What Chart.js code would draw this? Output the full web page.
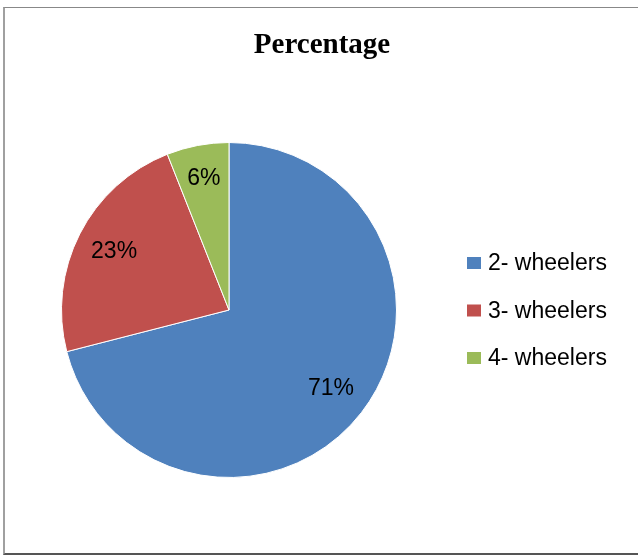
<!DOCTYPE html>
<html>
<head>
<meta charset="utf-8">
<script src="https://cdn.jsdelivr.net/npm/chart.js@4"></script>
<style>
  body { margin: 0; background: #fff; }
  #wrap { position: relative; width: 638px; height: 556px; overflow: hidden; }
  #frame { position: absolute; left: 3px; top: 7px; width: 660px; height: 545px;
           border-left: 2px solid #a0a0a0; border-top: 1px solid #888; border-bottom: 2px solid #555; }
  #chart_view { position: absolute; left: 0; top: 0; }
</style>
</head>
<body>
<div id="wrap">
  <div id="frame"></div>
  <canvas id="chart_view" width="638" height="556"></canvas>
</div>
<script>
var target = document.getElementById('chart_view');

const labels = ['2- wheelers', '3- wheelers', '4- wheelers'];
const values = [71, 23, 6];
const colors = ['#4F81BD', '#C0504D', '#9BBB59'];
const title = 'Percentage';

// title, legend and % labels drawn by hand to match the excel look
const excelBits = {
  id: 'excelBits',
  afterDraw(chart) {
    const ctx = chart.ctx;
    ctx.save();
    ctx.fillStyle = '#000';
    ctx.textBaseline = 'middle';

    ctx.font = 'bold 29px "Liberation Serif"';
    ctx.textAlign = 'center';
    ctx.fillText(title, 322, 46);

    // slice labels
    ctx.font = '23px "Liberation Sans"';
    const meta = chart.getDatasetMeta(0);
    meta.data.forEach(function (arc, i) {
      const p = arc.getProps(['x', 'y', 'startAngle', 'endAngle', 'outerRadius']);
      const mid = (p.startAngle + p.endAngle) / 2;
      const r = p.outerRadius * (i == 2 ? 0.8 : 0.77);
      ctx.fillText(values[i] + '%', p.x + Math.cos(mid) * r, p.y + Math.sin(mid) * r);
    });

    // legend
    ctx.textAlign = 'left';
    labels.forEach(function (lab, i) {
      const y = 263 + i * 47.5;
      ctx.fillStyle = colors[i];
      ctx.fillRect(467, y - 6, 14, 12);
      ctx.fillStyle = '#000';
      ctx.fillText(lab, 488, y + 1);
    });
    ctx.restore();
  }
};

const data = {
  labels: labels,
  datasets: [{
    data: values,
    backgroundColor: colors,
    borderColor: '#fff',
    borderWidth: 1
  }]
};

const config = {
  type: 'pie',
  data: data,
  options: {
    responsive: false,
    animation: false,
    layout: {
      padding: { left: 61, right: 241, top: 142, bottom: 78 }
    },
    plugins: {
      legend: { display: false },
      title: { display: false },
      tooltip: { enabled: false }
    }
  },
  plugins: [excelBits]
};

var myChart = new Chart(target, config);
</script>
</body>
</html>
